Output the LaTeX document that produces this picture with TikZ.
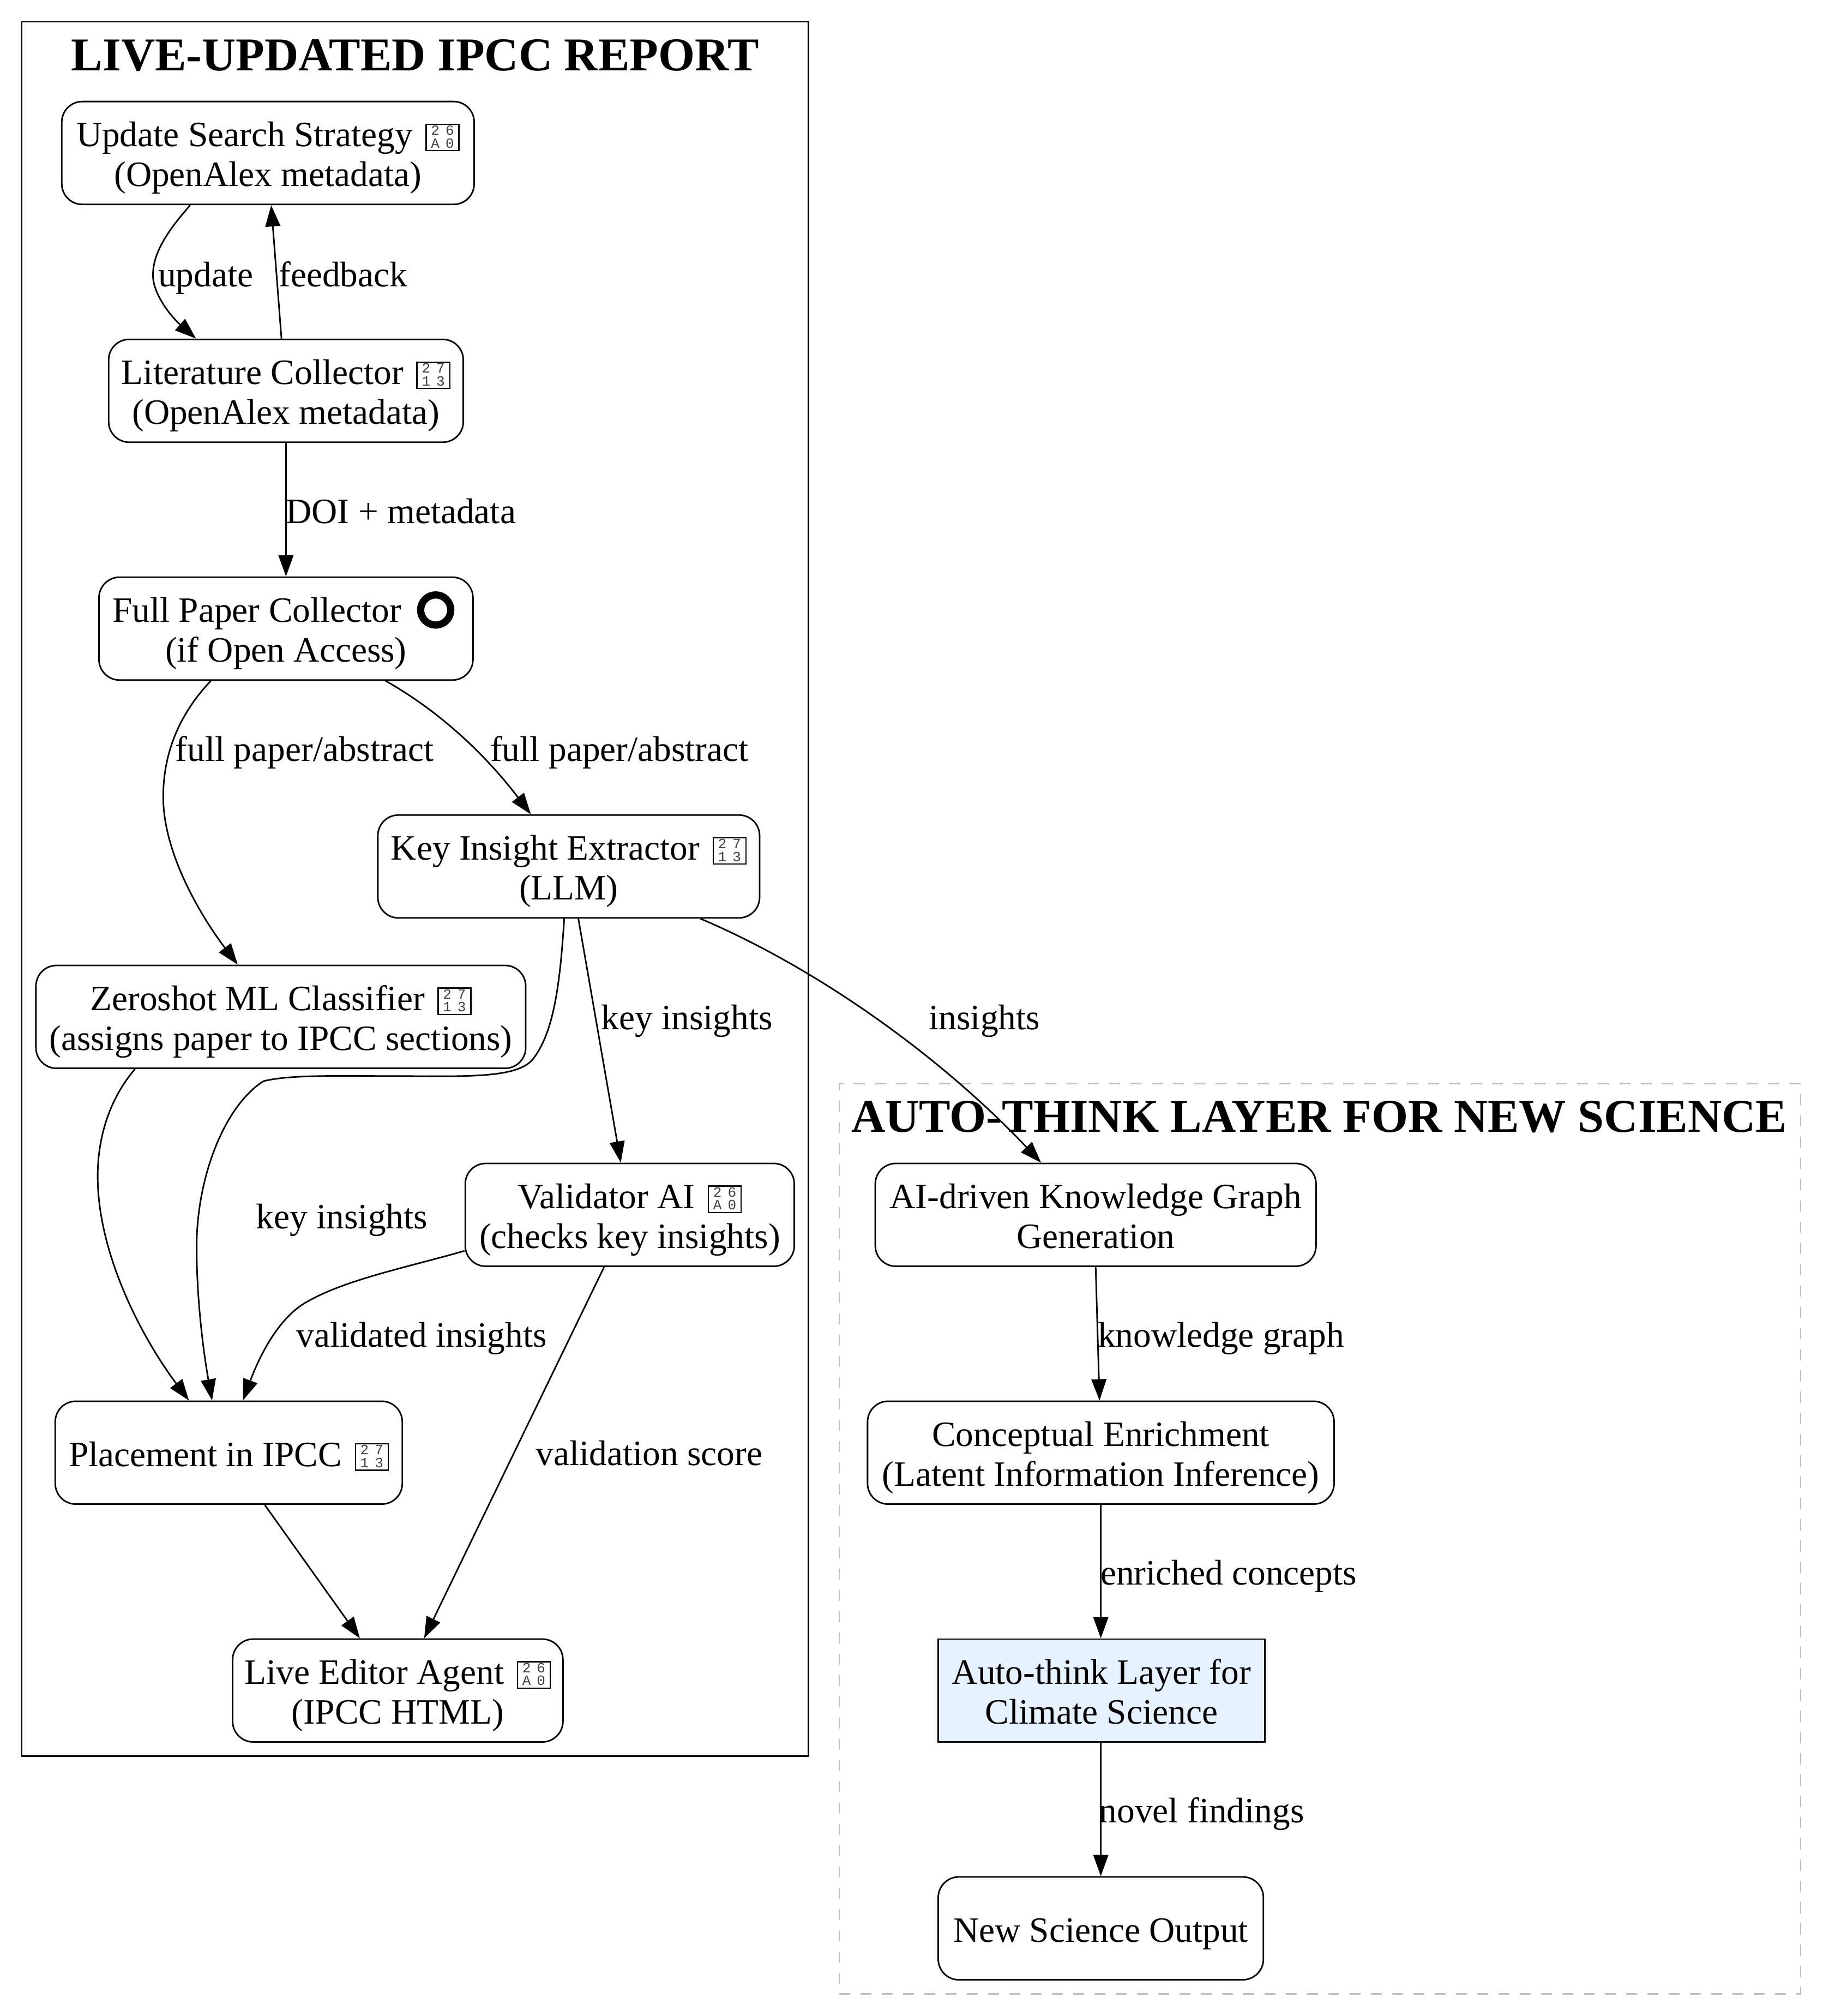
\documentclass[tikz,border=0pt]{standalone}
\usepackage{fontspec}
\setmainfont{Liberation Serif}
\newfontfamily\hexfont{Liberation Mono}
\usetikzlibrary{arrows.meta,calc}
\definecolor{boxblue}{HTML}{E6F2FF}
\newcommand\hexglyph[4]{\hspace{3pt}\smash{\raisebox{-2.6pt}{\fboxsep=0pt\fboxrule=1pt\fbox{\vbox to 19.4pt{\hsize=24.4pt\baselineskip=10pt\lineskiplimit=-20pt\vss
  \hbox to 24.4pt{\hfil\fontsize{11}{10}\hexfont\textcolor{black!75}{#1}\hspace{4.7pt}\textcolor{black!75}{#2}\hfil}
  \hbox to 24.4pt{\hfil\fontsize{11}{10}\hexfont\textcolor{black!75}{#3}\hspace{4.7pt}\textcolor{black!75}{#4}\hfil}\vskip 1pt\vss}}}}}
\newcommand\firstline{\rule[-6pt]{0pt}{33pt}}
\newcommand\secondline{\rule[-6pt]{0pt}{30pt}}
\tikzset{
  x=0.9972pt,y=-0.9972pt,
  nodebox/.style={draw,rounded corners=16pt,align=center,inner sep=0pt,line width=1.2pt,font=\fontsize{27.65}{31}\selectfont},
  squarebox/.style={nodebox,rounded corners=0pt,fill=boxblue},
  edgelabel/.style={inner sep=0pt,text height=23.8pt,text depth=6pt,font=\fontsize{27.65}{31}\selectfont},
  clustertitle/.style={inner sep=0pt,anchor=base,font=\fontsize{36.5}{40}\selectfont\bfseries},
  flow/.style={-{Stealth[inset=0pt,length=16.5pt,width=11.6pt]},line width=1.2pt},
  frame/.style={draw,inner sep=0pt,line width=1.2pt},
  dashframe/.style={draw=black!25,inner sep=0pt,line width=1.2pt,dash pattern=on 8.5pt off 8pt}
}
\begin{document}
\begin{tikzpicture}
\useasboundingbox (0,0) rectangle (1418,1568.2);
% clusters
\node[frame,minimum width=610.3pt,minimum height=1345.2pt] (liveframe) at (323,691.5) {};
\node[dashframe,minimum width=745.9pt,minimum height=706pt] (thinkframe) at (1027,1197) {};
\node[clustertitle] (livetitle) at (323,54.8) {LIVE-UPDATED IPCC REPORT};
\node[clustertitle] (thinktitle) at (1026.5,880.5) {AUTO-THINK LAYER FOR NEW SCIENCE};
% nodes
\node[nodebox,minimum width=320pt,minimum height=79.8pt] (upd) at (208.5,119) {\firstline Update Search Strategy \hexglyph{2}{6}{A}{0}\\\secondline (OpenAlex metadata)};
\node[nodebox,minimum width=275.2pt,minimum height=79.8pt] (lit) at (222.5,304) {\firstline Literature Collector \hexglyph{2}{7}{1}{3}\\\secondline (OpenAlex metadata)};
\node[nodebox,minimum width=290.2pt,minimum height=79.8pt] (full) at (222.5,489) {\firstline Full Paper Collector\hspace*{45pt}\\\secondline (if Open Access)};
\node[circle,draw,line width=5.6pt,minimum size=23.4pt,inner sep=0pt] (ring) at (339,474.5) {};
\node[nodebox,minimum width=296.2pt,minimum height=79.8pt] (key) at (442.5,674) {\firstline Key Insight Extractor \hexglyph{2}{7}{1}{3}\\\secondline (LLM)};
\node[nodebox,minimum width=380pt,minimum height=79.8pt] (zero) at (218.5,791) {\firstline Zeroshot ML Classifier \hexglyph{2}{7}{1}{3}\\\secondline (assigns paper to IPCC sections)};
\node[nodebox,minimum width=255.3pt,minimum height=79.8pt] (val) at (490,945) {\firstline Validator AI \hexglyph{2}{6}{A}{0}\\\secondline (checks key insights)};
\node[nodebox,minimum width=269.3pt,minimum height=79.8pt] (place) at (178,1130) {\firstline Placement in IPCC \hexglyph{2}{7}{1}{3}};
\node[nodebox,minimum width=256.3pt,minimum height=79.8pt] (live) at (309.5,1315) {\firstline Live Editor Agent \hexglyph{2}{6}{A}{0}\\\secondline (IPCC HTML)};
\node[nodebox,minimum width=342pt,minimum height=79.8pt] (graph) at (852.5,945) {\firstline AI-driven Knowledge Graph\\\secondline Generation};
\node[nodebox,minimum width=362pt,minimum height=79.8pt] (concept) at (856.5,1130) {\firstline Conceptual Enrichment\\\secondline (Latent Information Inference)};
\node[squarebox,minimum width=253.3pt,minimum height=79.8pt] (auto) at (857,1315) {\firstline Auto-think Layer for\\\secondline Climate Science};
\node[nodebox,minimum width=252.3pt,minimum height=79.8pt] (out) at (856.5,1500) {\firstline New Science Output};
% connectors
\draw[flow] ($(upd.south)+(-60.5,0)$) .. controls (130,180) and (119,197) .. (119,214) .. controls (119,230) and (135,248) .. ($(lit.north)+(-70,0)$);
\draw[flow] ($(lit.north)+(-3.5,0)$) -- ($(upd.south)+(2.5,0)$);
\draw[flow] (lit.south) -- (full.north);
\draw[flow] ($(full.south)+(-58.5,0)$) .. controls (140,555) and (127,585) .. (127,620) .. controls (127,665) and (158,715) .. ($(zero.north)+(-33.5,0)$);
\draw[flow] ($(full.south)+(77.5,0)$) .. controls (345,555) and (380,590) .. ($(key.north)+(-29.5,0)$);
\draw[flow] ($(key.south)+(7.5,0)$) -- ($(val.north)+(-7,0)$);
\draw[flow] ($(key.south)+(102.5,0)$) .. controls (640,755) and (735,825) .. ($(graph.north)+(-42.5,0)$);
\draw[flow] ($(key.south)+(-3.5,0)$) .. controls (436,760) and (432,800) .. (416,822) .. controls (405,840) and (360,837) .. (300,837) .. controls (260,837) and (225,836) .. (205,841) .. controls (175,860) and (153,915) .. (153,970) .. controls (153,1010) and (158,1050) .. ($(place.north)+(-13,0)$);
\draw[flow] ($(zero.south)+(-113.5,0)$) .. controls (85,855) and (76,885) .. (76,915) .. controls (76,975) and (110,1040) .. ($(place.north)+(-31,0)$);
\draw[flow] ($(val.west)+(0,28)$) .. controls (320,985) and (270,995) .. (240,1012) .. controls (215,1025) and (200,1060) .. ($(place.north)+(11,0)$);
\draw[flow] ($(val.south)+(-20,0)$) -- ($(live.north)+(20.5,0)$);
\draw[flow] ($(place.south)+(28,0)$) -- ($(live.north)+(-29.5,0)$);
\draw[flow] (graph.south) -- ($(concept.north)+(-1,0)$);
\draw[flow] (concept.south) -- ($(auto.north)+(-0.5,0)$);
\draw[flow] ($(auto.south)+(-0.5,0)$) -- (out.north);
% labels
\node[edgelabel] (l1) at (160,214) {update};
\node[edgelabel] (l2) at (267,214) {feedback};
\node[edgelabel] (l3) at (312,398) {DOI + metadata};
\node[edgelabel] (l4) at (237,583) {full paper/abstract};
\node[edgelabel] (l5) at (482,583) {full paper/abstract};
\node[edgelabel] (l6) at (534.5,792) {key insights};
\node[edgelabel] (l7) at (766,792) {insights};
\node[edgelabel] (l8) at (266,947) {key insights};
\node[edgelabel] (l9) at (328,1039) {validated insights};
\node[edgelabel] (l10) at (505,1131) {validation score};
\node[edgelabel] (l11) at (950,1039) {knowledge graph};
\node[edgelabel] (l12) at (956,1224) {enriched concepts};
\node[edgelabel] (l13) at (935,1409) {novel findings};
\end{tikzpicture}
\end{document}
